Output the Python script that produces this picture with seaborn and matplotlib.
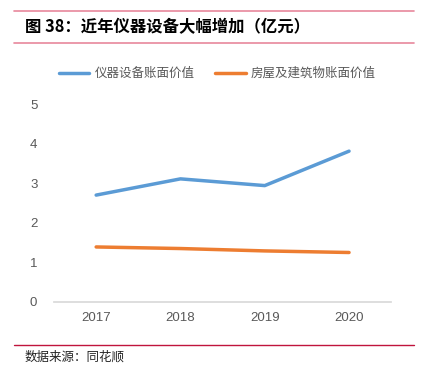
import pandas as pd
import matplotlib.pyplot as plt
import seaborn as sns

# 数据
years = ['2017', '2018', '2019', '2020']
yiqi = [2.70, 3.11, 2.94, 3.81]
fangwu = [1.39, 1.35, 1.29, 1.25]

df = pd.DataFrame({
    '年份': years * 2,
    '价值': yiqi + fangwu,
    '类别': ['仪器设备账面价值'] * 4 + ['房屋及建筑物账面价值'] * 4,
})

sns.set_theme(style='white')
plt.rcParams['font.family'] = ['Noto Sans CJK SC', 'DejaVu Sans']

fig = plt.figure(figsize=(4.22, 3.77), dpi=100)
ax = fig.add_axes([0.128, 0.199, 0.799, 0.525])

sns.lineplot(data=df, x='年份', y='价值', hue='类别', sort=False,
             palette=['#5B9BD5', '#ED7D31'], linewidth=2.5, ax=ax, legend=False)

ax.set_ylim(0, 5)
ax.set_xlim(-0.5, 3.5)
ax.set_yticks(range(6))
ax.set_xlabel('')
ax.set_ylabel('')
ax.tick_params(axis='both', colors='#595959', labelsize=9.5, length=0, pad=12)
ax.tick_params(axis='x', pad=7)
for lab in ax.get_xticklabels() + ax.get_yticklabels():
    lab.set_family(['Liberation Sans', 'DejaVu Sans'])
for s in ['top', 'right', 'left']:
    ax.spines[s].set_visible(False)
ax.spines['bottom'].set_color('#D9D9D9')

# 图例
for x0, label, c in [(0.14, '仪器设备账面价值', '#5B9BD5'), (0.51, '房屋及建筑物账面价值', '#ED7D31')]:
    fig.add_artist(plt.Line2D([x0, x0 + 0.072], [0.806, 0.806], color=c, lw=2.5))
    fig.text(x0 + 0.085, 0.806, label, fontsize=9, color='#595959', va='center')

# 标题和线
fig.add_artist(plt.Line2D([0.033, 0.981], [0.971, 0.971], color='#E8879C', lw=1.2))
fig.add_artist(plt.Line2D([0.033, 0.981], [0.886, 0.886], color='#E8879C', lw=1.2))
fig.text(0.06, 0.927, '图 38：近年仪器设备大幅增加（亿元）', fontsize=11.8, fontweight='bold',
         color='black', va='center')
fig.add_artist(plt.Line2D([0.033, 0.981], [0.085, 0.085], color='#C0143C', lw=1.0))
fig.text(0.057, 0.053, '数据来源：同花顺', fontsize=9, color='#222222', va='center')

plt.savefig('out.png', dpi=100)
plt.close()
